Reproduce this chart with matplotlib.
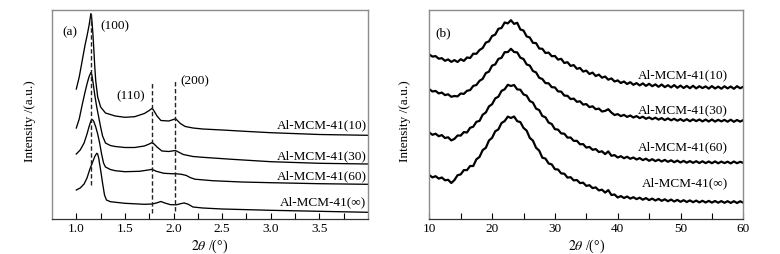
import numpy as np
import matplotlib
matplotlib.use("Agg")
import matplotlib.pyplot as plt

plt.rcParams['font.family'] = ['Liberation Serif', 'DejaVu Serif']
plt.rcParams['mathtext.fontset'] = 'stix'

labels = ['Al-MCM-41(10)', 'Al-MCM-41(30)', 'Al-MCM-41(60)', 'Al-MCM-41(∞)']

# ---- panel (a): low-angle XRD, heights in arbitrary units ----
xa_10 = [1.00, 1.03, 1.06, 1.09, 1.11, 1.13, 1.14, 1.15, 1.16, 1.17, 1.18, 1.19, 1.20, 1.22,
         1.25, 1.30, 1.40, 1.50, 1.60, 1.70, 1.75, 1.78, 1.80, 1.83, 1.87, 1.95, 2.00, 2.02,
         2.04, 2.07, 2.12, 2.20, 2.30, 2.50, 2.75, 3.00, 3.50, 4.00]
ya_10 = [130, 142, 158, 174, 183, 193, 199, 205.5, 199, 186, 170, 152, 138, 122,
         112, 106, 103, 101.7, 102.3, 105.5, 108.5, 110.7, 108, 103, 98.5, 98, 99.5, 100.3,
         98.5, 95.5, 92.5, 91, 90, 89, 87.6, 86.3, 84.5, 83.7]

xa_30 = [1.00, 1.03, 1.06, 1.09, 1.11, 1.13, 1.15, 1.16, 1.17, 1.19, 1.21, 1.23, 1.25, 1.27,
         1.30, 1.35, 1.40, 1.50, 1.60, 1.70, 1.75, 1.78, 1.80, 1.83, 1.88, 1.95, 2.00, 2.02,
         2.05, 2.10, 2.20, 2.30, 2.60, 3.00, 3.50, 4.00]
ya_30 = [91, 100, 114, 127, 135, 142, 146.5, 144, 138, 124, 112, 102, 92, 83,
         76, 73.5, 72.5, 71.5, 71.5, 73, 75, 76.5, 75, 72, 68, 67.5, 68.2, 68.5,
         67, 64.5, 62.5, 61.7, 59.7, 57.3, 55.7, 55]

xa_60 = [1.00, 1.04, 1.08, 1.11, 1.13, 1.15, 1.16, 1.17, 1.18, 1.20, 1.22, 1.24, 1.26, 1.28,
         1.30, 1.35, 1.40, 1.50, 1.65, 1.74, 1.78, 1.82, 1.90, 2.00, 2.02, 2.08, 2.13, 2.17,
         2.22, 2.40, 2.70, 3.00, 3.50, 4.00]
ya_60 = [65, 69, 76, 85, 92, 98, 99.5, 99, 97.5, 92, 85, 76, 65, 56,
         52, 49.5, 48.3, 47.3, 47.7, 49, 49.7, 47.8, 45.7, 45.2, 45.3, 44.7, 43.6, 41.5,
         39.8, 38.3, 37, 36.3, 35.3, 34.7]

xa_inf = [1.00, 1.04, 1.08, 1.11, 1.14, 1.17, 1.19, 1.21, 1.22, 1.23, 1.25, 1.27, 1.29, 1.31,
          1.35, 1.50, 1.70, 1.78, 1.83, 1.87, 1.91, 1.97, 2.03, 2.08, 2.11, 2.15, 2.20, 2.30,
          2.50, 3.00, 3.50, 4.00]
ya_inf = [29, 31, 35, 41, 50, 57.5, 62.5, 65.7, 65, 61, 49, 36, 24, 19,
          17.3, 15.7, 14.7, 15, 16.2, 17.5, 16, 14.3, 14.2, 15.5, 16, 14.8, 12, 11,
          10, 8.7, 7.7, 6.7]

peak_pos = [1.15, 1.78, 2.02]
peak_tops = [207, 136, 138]
peak_bottoms = [34, 6, 8]
peak_names = ['(100)', '(110)', '(200)']

# ---- panel (b): wide-angle XRD, sampled every 0.5 degree ----
xb = np.arange(10, 60.01, 0.5)
yb_10 = [164.5, 162.4, 162.9, 160.3, 160.8, 158.2, 159.6, 157.1, 158.9, 157.0,
         159.8, 158.1, 161.5, 161.0, 165.3, 165.2, 169.0, 171.0, 176.4, 177.6,
         183.0, 184.4, 190.2, 191.0, 196.5, 195.6, 198.8, 195.1, 196.2, 189.5,
         188.5, 182.6, 181.5, 176.2, 175.9, 170.5, 170.2, 166.0, 166.4, 162.8,
         163.0, 159.4, 160.2, 156.0, 156.8, 153.1, 153.9, 150.2, 151.0, 147.4,
         148.4, 145.0, 146.4, 143.0, 144.4, 141.3, 142.5, 139.3, 140.6, 137.5,
         138.6, 136.0, 137.5, 135.0, 136.8, 134.2, 135.9, 133.6, 135.6, 133.1,
         135.2, 132.8, 134.6, 132.2, 134.5, 131.9, 133.8, 131.6, 133.9, 131.2,
         133.4, 131.0, 133.1, 130.8, 133.2, 130.6, 132.8, 130.9, 132.6, 130.4,
         132.9, 130.5, 132.4, 130.3, 132.7, 130.6, 132.5, 130.2, 132.8, 130.7,
         132.3]
yb_30 = [129.8, 127.5, 128.1, 125.6, 126.4, 123.9, 124.7, 122.2, 123.0, 122.6,
         125.5, 125.1, 128.2, 128.9, 133.1, 134.0, 138.2, 140.1, 145.9, 147.4,
         153.4, 154.6, 160.1, 161.2, 166.8, 166.9, 170.2, 167.0, 166.6, 161.3,
         160.0, 154.6, 153.4, 148.0, 146.6, 141.2, 140.0, 135.9, 135.7, 131.8,
         131.6, 127.6, 127.4, 123.4, 123.2, 119.9, 120.4, 117.2, 117.7, 114.4,
         114.9, 111.9, 112.7, 109.8, 110.4, 107.5, 108.1, 109.8, 106.4, 104.0,
         104.9, 102.9, 104.1, 102.1, 103.5, 101.5, 102.9, 100.9, 102.3, 100.2,
         101.6, 99.8, 101.3, 99.4, 100.9, 98.9, 100.6, 98.7, 100.2, 98.3,
         99.9, 98.0, 99.8, 97.8, 99.6, 97.9, 99.5, 97.6, 99.4, 97.5,
         99.5, 97.4, 99.2, 97.6, 99.1, 97.3, 99.3, 97.2, 99.0, 97.4,
         98.9]
yb_60 = [86.5, 84.2, 85.3, 82.8, 83.9, 81.0, 81.7, 78.6, 80.1, 83.5,
         83.4, 86.9, 86.5, 91.2, 92.3, 97.2, 98.1, 104.3, 106.5, 112.6,
         114.8, 120.6, 122.3, 128.1, 129.7, 134.2, 133.0, 134.0, 129.6, 129.3,
         124.6, 123.4, 118.0, 116.4, 110.4, 108.9, 103.0, 101.7, 96.4, 95.0,
         89.8, 89.4, 85.6, 85.3, 81.4, 81.5, 78.1, 78.2, 74.7, 74.9,
         71.4, 72.1, 69.2, 69.9, 67.0, 67.7, 64.9, 67.6, 63.2, 63.9,
         61.5, 62.8, 60.8, 62.2, 60.2, 61.5, 59.5, 60.9, 58.9, 60.3,
         58.2, 59.8, 57.9, 59.4, 57.5, 59.1, 57.2, 58.7, 56.8, 58.4,
         56.5, 58.1, 56.3, 57.9, 56.2, 57.8, 56.0, 57.7, 55.9, 57.5,
         55.8, 57.6, 55.7, 57.4, 55.9, 57.3, 55.6, 57.5, 55.8, 57.2,
         56.1]
yb_inf = [43.9, 41.6, 42.8, 40.4, 41.5, 38.7, 39.2, 36.0, 38.9, 43.8,
          44.6, 48.9, 48.9, 53.0, 53.0, 59.7, 62.1, 68.9, 71.2, 78.5,
          81.2, 87.7, 89.6, 96.0, 97.9, 102.4, 101.0, 102.5, 97.8, 96.9,
          91.1, 88.4, 81.1, 78.4, 71.2, 68.4, 61.3, 60.4, 55.5, 54.6,
          49.8, 49.5, 45.6, 45.3, 41.4, 41.8, 38.6, 39.0, 35.9, 36.3,
          33.1, 33.8, 30.9, 31.6, 28.6, 29.3, 26.4, 28.9, 24.0, 24.5,
          21.5, 22.9, 21.0, 22.5, 20.4, 21.8, 19.9, 21.3, 19.3, 20.9,
          18.9, 20.4, 18.5, 20.1, 18.2, 19.7, 17.8, 19.4, 17.5, 19.1,
          17.2, 18.8, 17.0, 18.6, 16.8, 18.4, 16.6, 18.2, 16.5, 18.1,
          16.4, 18.0, 16.3, 17.9, 16.2, 17.8, 16.1, 17.8, 16.0, 17.7,
          16.3]

label_y_a = [94, 62.3, 42.3, 16.3]
label_y_b = [144, 109, 72, 36]

fig = plt.figure(figsize=(7.8, 2.54), dpi=100)
ax1 = fig.add_axes([52 / 780, 35 / 254, 316 / 780, 209 / 254])
ax2 = fig.add_axes([429.3 / 780, 35 / 254, 314 / 780, 209 / 254])


def style(ax):
    for s in ['left', 'top', 'right']:
        ax.spines[s].set_color('#8c8c8c')
        ax.spines[s].set_linewidth(1.0)
    ax.spines['bottom'].set_color('#333333')
    ax.spines['bottom'].set_linewidth(0.9)
    ax.set_yticks([])
    ax.tick_params(axis='x', which='both', direction='in', length=4, width=0.8,
                   pad=3, labelsize=9.5, top=False)
    ax.set_ylim(0, 209)
    ax.set_ylabel('Intensity /(a.u.)', fontsize=9.5)
    ax.set_xlabel(r'$\mathit{2\theta}$ /(°)', fontsize=10)


for xs, ys in [(xa_10, ya_10), (xa_30, ya_30), (xa_60, ya_60), (xa_inf, ya_inf)]:
    ax1.plot(xs, ys, color='black', lw=0.95)
for p, t, b in zip(peak_pos, peak_tops, peak_bottoms):
    ax1.plot([p, p], [b, t], color='#222222', lw=1.0, dashes=(3.2, 1.8))
ax1.text(1.398, 193, peak_names[0], fontsize=9.5, ha='center', va='center')
ax1.text(1.559, 122.3, peak_names[1], fontsize=9.5, ha='center', va='center')
ax1.text(2.221, 137.3, peak_names[2], fontsize=9.5, ha='center', va='center')
ax1.text(0.935, 186.7, '(a)', fontsize=9.5, ha='center', va='center')
for lab, ly in zip(labels, label_y_a):
    ax1.text(3.985, ly, lab, fontsize=9.5, ha='right', va='center')
ax1.set_xlim(0.75, 4.0)
ax1.set_xticks([1.0, 1.5, 2.0, 2.5, 3.0, 3.5])
ax1.set_xticks([1.25, 1.75, 2.25, 2.75, 3.25, 3.75], minor=True)
style(ax1)
ax1.yaxis.set_label_coords(-16 / 316, 0.47)
ax1.xaxis.set_label_coords(0.5, -19 / 209)
ax1.xaxis.label.set_va('top')

for ys in [yb_10, yb_30, yb_60, yb_inf]:
    ax2.plot(xb, ys, color='black', lw=1.6)
ax2.text(12.18, 186, '(b)', fontsize=9.5, ha='center', va='center')
for lab, ly in zip(labels, label_y_b):
    ax2.text(57.6, ly, lab, fontsize=9.5, ha='right', va='center')
ax2.set_xlim(10, 60)
ax2.set_xticks([10, 20, 30, 40, 50, 60])
ax2.set_xticks([15, 25, 35, 45, 55], minor=True)
style(ax2)
ax2.yaxis.set_label_coords(-18 / 314, 0.47)
ax2.xaxis.set_label_coords(0.5, -19 / 209)
ax2.xaxis.label.set_va('top')

fig.savefig('out.png', dpi=100)
